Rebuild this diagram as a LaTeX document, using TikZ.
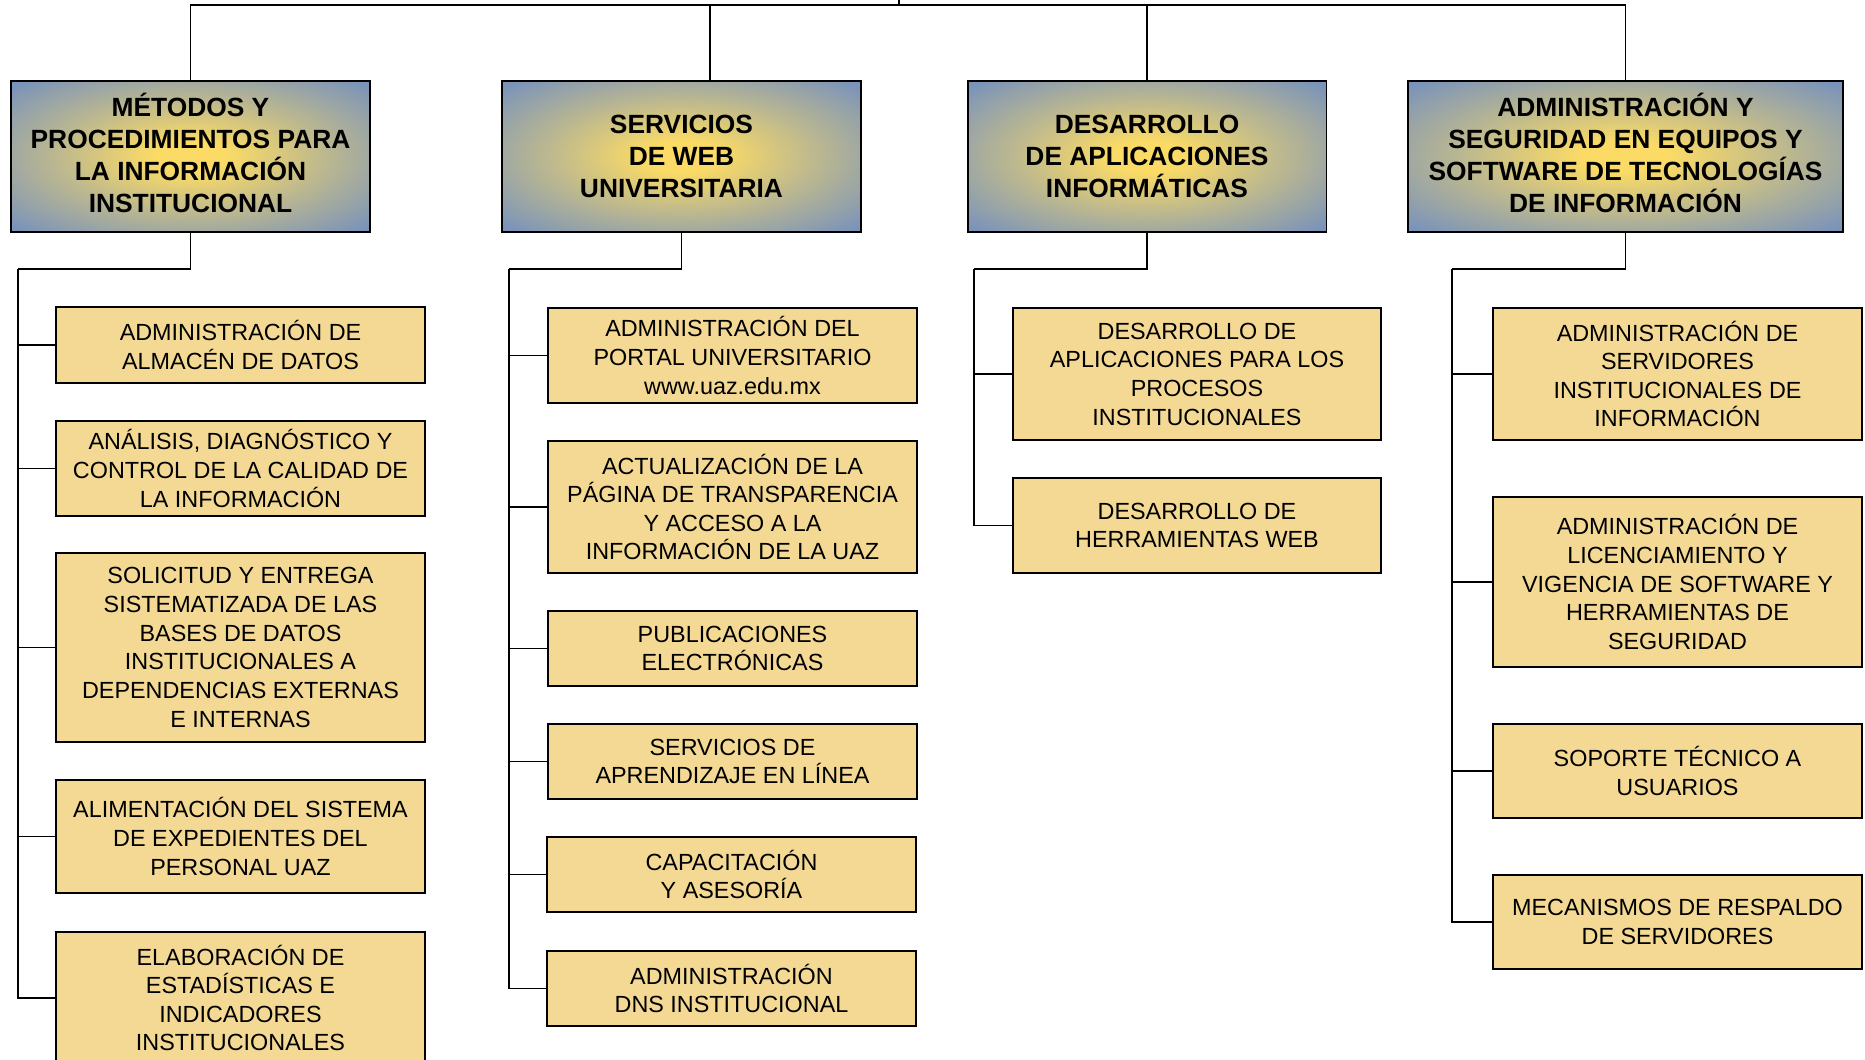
\documentclass[tikz,border=0pt]{standalone}
\usepackage{fontspec}
\setmainfont{Liberation Sans}
\usetikzlibrary{calc}

\definecolor{hdrblue}{RGB}{122,147,186}
\definecolor{hdryellow}{RGB}{251,219,102}
\definecolor{taskfill}{RGB}{243,217,148}
\colorlet{hdrmid}{hdryellow!50!hdrblue}

\pgfdeclareradialshading{areaglow}{\pgfpoint{0bp}{0bp}}{color(0bp)=(hdryellow); color(5bp)=(hdryellow); color(19bp)=(hdrmid); color(34bp)=(hdrblue); color(50bp)=(hdrblue)}

\begin{document}
\begin{tikzpicture}[x=0.02cm, y=-0.02cm,
  areabox/.style={draw, line width=1.1pt, shading=areaglow, inner sep=0pt,
    minimum width=7.18cm, minimum height=3.02cm, align=center,
    font=\fontsize{15}{18.2}\selectfont\bfseries},
  taskbox/.style={draw, line width=1.1pt, fill=taskfill, inner sep=0pt,
    minimum width=7.37cm, align=center, font=\fontsize{13.3}{16.3}\selectfont},
  link/.style={line width=1.05pt}]
\useasboundingbox (0,0) rectangle (1865,1060);
\clip (0,0) rectangle (1865,1060);

% areas
\node[areabox, text depth=0.14cm] (a1) at (190.5,156.5) {MÉTODOS Y\\PROCEDIMIENTOS PARA\\LA INFORMACIÓN\\INSTITUCIONAL};
\node[areabox] (a2) at (681.5,156.5) {SERVICIOS\\DE WEB\\UNIVERSITARIA};
\node[areabox] (a3) at (1147,156.5) {DESARROLLO\\DE APLICACIONES\\INFORMÁTICAS};
\node[areabox, text depth=0.14cm, minimum width=8.7cm] (a4) at (1625.5,156.5) {ADMINISTRACIÓN Y\\SEGURIDAD EN EQUIPOS Y\\SOFTWARE DE TECNOLOGÍAS\\DE INFORMACIÓN};

% metodos
\node[taskbox, minimum height=1.52cm] (m1) at (240.5,345) {ADMINISTRACIÓN DE\\ALMACÉN DE DATOS};
\node[taskbox, minimum height=1.9cm] (m2) at (240.5,468.5) {ANÁLISIS, DIAGNÓSTICO Y\\CONTROL DE LA CALIDAD DE\\LA INFORMACIÓN};
\node[taskbox, minimum height=3.78cm] (m3) at (240.5,647.5) {SOLICITUD Y ENTREGA\\SISTEMATIZADA DE LAS\\BASES DE DATOS\\INSTITUCIONALES A\\DEPENDENCIAS EXTERNAS\\E INTERNAS};
\node[taskbox, minimum height=2.26cm] (m4) at (240.5,836.5) {ALIMENTACIÓN DEL SISTEMA\\DE EXPEDIENTES DEL\\PERSONAL UAZ};
\node[taskbox, minimum height=2.64cm] (m5) at (240.5,998) {ELABORACIÓN DE\\ESTADÍSTICAS E\\INDICADORES\\INSTITUCIONALES};

% servicios web
\node[taskbox, minimum height=1.9cm] (s1) at (732.5,355.5) {ADMINISTRACIÓN DEL\\PORTAL UNIVERSITARIO\\www.uaz.edu.mx};
\node[taskbox, minimum height=2.64cm] (s2) at (732.5,507) {ACTUALIZACIÓN DE LA\\PÁGINA DE TRANSPARENCIA\\Y ACCESO A LA\\INFORMACIÓN DE LA UAZ};
\node[taskbox, minimum height=1.5cm] (s3) at (732.5,648.5) {PUBLICACIONES\\ELECTRÓNICAS};
\node[taskbox, minimum height=1.5cm] (s4) at (732.5,761.5) {SERVICIOS DE\\APRENDIZAJE EN LÍNEA};
\node[taskbox, minimum height=1.5cm] (s5) at (731.5,874.5) {CAPACITACIÓN\\Y ASESORÍA};
\node[taskbox, minimum height=1.5cm] (s6) at (731.5,988.5) {ADMINISTRACIÓN\\DNS INSTITUCIONAL};

% desarrollo
\node[taskbox, minimum height=2.64cm] (d1) at (1197,374) {DESARROLLO DE\\APLICACIONES PARA LOS\\PROCESOS\\INSTITUCIONALES};
\node[taskbox, minimum height=1.9cm] (d2) at (1197,525.5) {DESARROLLO DE\\HERRAMIENTAS WEB};

% administracion y seguridad
\node[taskbox, minimum height=2.64cm] (t1) at (1677.5,374) {ADMINISTRACIÓN DE\\SERVIDORES\\INSTITUCIONALES DE\\INFORMACIÓN};
\node[taskbox, minimum height=3.4cm] (t2) at (1677.5,582) {ADMINISTRACIÓN DE\\LICENCIAMIENTO Y\\VIGENCIA DE SOFTWARE Y\\HERRAMIENTAS DE\\SEGURIDAD};
\node[taskbox, minimum height=1.88cm] (t3) at (1677.5,771) {SOPORTE TÉCNICO A\\USUARIOS};
\node[taskbox, minimum height=1.88cm] (t4) at (1677.5,922) {MECANISMOS DE RESPALDO\\DE SERVIDORES};

% top bus
\coordinate (bus) at (899,5);
\coordinate (a2top) at ([xshift=0.57cm]a2.north);
\draw[link] (a1.north) |- (bus);
\draw[link] (a4.north) |- (bus);
\draw[link] (a2top) -- (a2top |- bus);
\draw[link] (a3.north) -- (a3.north |- bus);
\draw[link] (bus) -- ++(0,-10);

% trunks
\coordinate (k1) at (18,269);
\coordinate (k2) at (509,269);
\coordinate (k3) at (974,269);
\coordinate (k4) at (1452,269);
\draw[link] (a1.south) |- (k1);
\draw[link] (a2.south) |- (k2);
\draw[link] (a3.south) |- (k3);
\draw[link] (a4.south) |- (k4);
\foreach \n in {1,...,5} \draw[link] (k1) |- (m\n.west);
\foreach \n in {1,...,6} \draw[link] (k2) |- (s\n.west);
\foreach \n in {1,2} \draw[link] (k3) |- (d\n.west);
\foreach \n in {1,...,4} \draw[link] (k4) |- (t\n.west);
\end{tikzpicture}
\end{document}
